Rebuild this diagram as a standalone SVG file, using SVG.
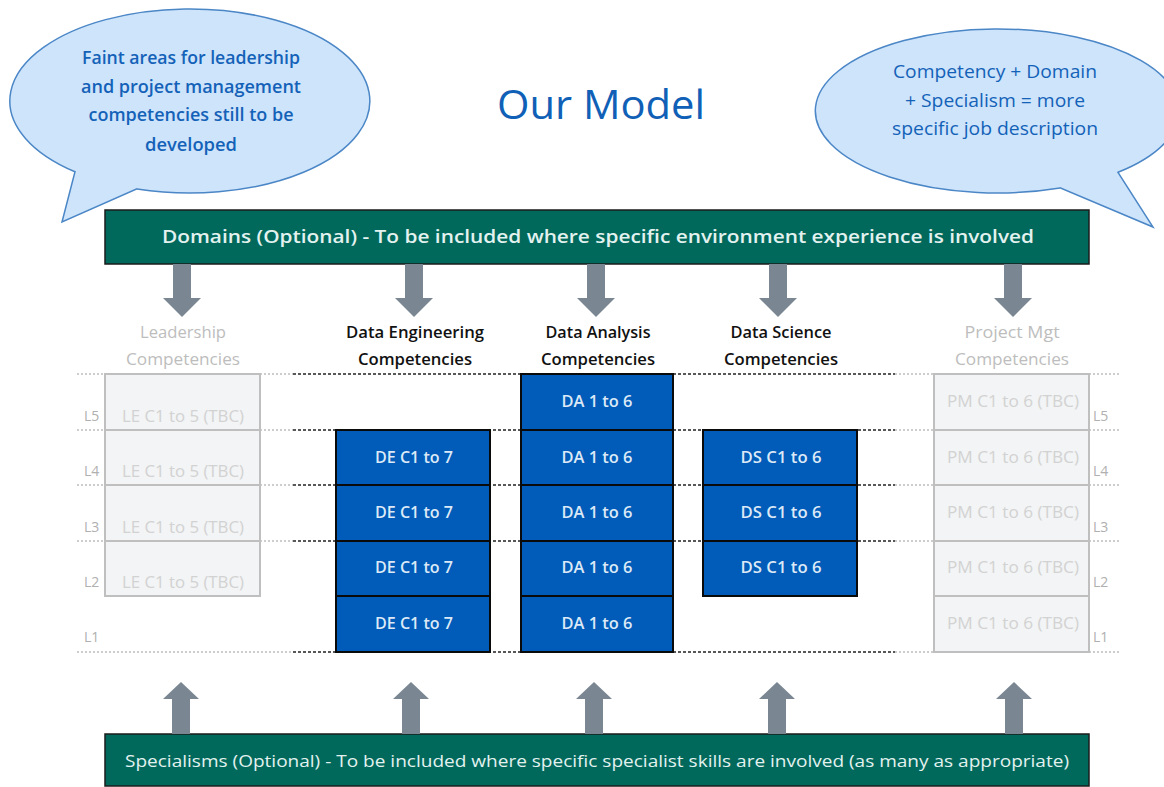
<svg xmlns="http://www.w3.org/2000/svg" width="1164" height="787" viewBox="0 0 1164 787">
<defs>
<style>
text{font-family:"Open Sans","Noto Sans","DejaVu Sans",sans-serif;}
.bub{fill:#cde4fb;stroke:#4b86c6;stroke-width:1.5;}
.bt{fill:#1462b8;font-size:18px;text-anchor:middle;}
.bar{fill:#00695c;stroke:#1b1b1b;stroke-width:1.5;}
.bart{fill:#e3f2ef;text-anchor:middle;}
.arr{fill:#7a8793;}
.hd{font-size:16px;text-anchor:middle;fill:#111;font-weight:600;}
.hdf{font-size:16px;text-anchor:middle;fill:#bdbdbd;}
.lv{font-size:14px;fill:#b0b0b0;}
.dg{stroke:#bdbdbd;stroke-width:1.3;stroke-dasharray:2 2;fill:none;}
.dk{stroke:#222;stroke-width:1.5;stroke-dasharray:3 2;fill:none;}
.fb{fill:#f2f4f5;stroke:#bfbfbf;stroke-width:2;}
.ft{font-size:16px;fill:#d2d2d2;text-anchor:middle;}
.blu{fill:#005cb8;stroke:#0a0a0a;stroke-width:2;}
.wt{font-size:16px;fill:#dce9f7;text-anchor:middle;font-weight:600;}
</style>
<symbol id="dn" overflow="visible"><path class="arr" d="M-9,0 H9 V34 H19 L0,53 L-19,34 H-9 Z"/></symbol>
<symbol id="up" overflow="visible"><path class="arr" d="M0,0 L18,17 H9 V52 H-9 V17 H-18 Z"/></symbol>
</defs>
<rect width="1164" height="787" fill="#ffffff"/>

<g id="bubble-left">
<path class="bub" d="M75,171.8 A180,92 0 1 1 137,188.9 L62,222 Z"/>
<text class="bt" font-weight="600" x="191" y="64" textLength="218" lengthAdjust="spacingAndGlyphs">Faint areas for leadership</text>
<text class="bt" font-weight="600" x="191" y="93" textLength="220" lengthAdjust="spacingAndGlyphs">and project management</text>
<text class="bt" font-weight="600" x="191" y="121" textLength="205" lengthAdjust="spacingAndGlyphs">competencies still to be</text>
<text class="bt" font-weight="600" x="191" y="151" textLength="92" lengthAdjust="spacingAndGlyphs">developed</text>
</g>

<g id="bubble-right">
<path class="bub" d="M1060,187.9 A182,82 0 1 1 1118,172.3 L1153,227 Z"/>
<text class="bt" x="995" y="78" textLength="204" lengthAdjust="spacingAndGlyphs">Competency + Domain</text>
<text class="bt" x="995" y="107" textLength="180" lengthAdjust="spacingAndGlyphs">+ Specialism = more</text>
<text class="bt" x="995" y="135" textLength="206" lengthAdjust="spacingAndGlyphs">specific job description</text>
</g>

<g id="title">
<text x="601" y="119" font-size="40" fill="#0f60b6" text-anchor="middle" textLength="208" lengthAdjust="spacingAndGlyphs">Our Model</text>
</g>

<g id="domains">
<rect class="bar" x="105" y="210" width="984" height="54"/>
<text class="bart" x="598" y="243" font-size="18" font-weight="600" textLength="872" lengthAdjust="spacingAndGlyphs">Domains (Optional) - To be included where specific environment experience is involved</text>
</g>

<g id="specialisms">
<rect class="bar" x="105" y="734" width="984" height="52"/>
<text class="bart" x="597" y="767" font-size="16" textLength="944" lengthAdjust="spacingAndGlyphs">Specialisms (Optional) - To be included where specific specialist skills are involved (as many as appropriate)</text>
</g>

<g id="connectors">
<use href="#dn" x="182" y="264"/>
<use href="#dn" x="414" y="264"/>
<use href="#dn" x="596" y="264"/>
<use href="#dn" x="778" y="264"/>
<use href="#dn" x="1013" y="264"/>
<use href="#up" x="181" y="682"/>
<use href="#up" x="411" y="682"/>
<use href="#up" x="594" y="682"/>
<use href="#up" x="777" y="682"/>
<use href="#up" x="1014" y="682"/>
</g>

<g id="gridlines">
<path class="dg" d="M77,374 H105 M260,374 H293 M895,374 H934 M1089,374 H1120"/>
<path class="dg" d="M77,430 H105 M260,430 H293 M895,430 H934 M1089,430 H1120"/>
<path class="dg" d="M77,485 H105 M260,485 H293 M895,485 H934 M1089,485 H1120"/>
<path class="dg" d="M77,541 H105 M260,541 H293 M895,541 H934 M1089,541 H1120"/>
<path class="dg" d="M77,652 H293 M895,652 H934 M1089,652 H1120"/>
<path class="dk" d="M293,374 H895 M293,430 H895 M293,485 H895 M293,541 H895 M293,652 H895"/>
</g>

<g id="levels-left">
<text class="lv" x="84" y="421">L5</text>
<text class="lv" x="84" y="476">L4</text>
<text class="lv" x="84" y="532">L3</text>
<text class="lv" x="84" y="587">L2</text>
<text class="lv" x="84" y="642">L1</text>
</g>
<g id="levels-right">
<text class="lv" x="1093" y="421">L5</text>
<text class="lv" x="1093" y="476">L4</text>
<text class="lv" x="1093" y="532">L3</text>
<text class="lv" x="1093" y="587">L2</text>
<text class="lv" x="1093" y="642">L1</text>
</g>

<g id="leadership">
<text class="hdf" x="183" y="338" textLength="86" lengthAdjust="spacingAndGlyphs">Leadership</text>
<text class="hdf" x="183" y="365" textLength="114" lengthAdjust="spacingAndGlyphs">Competencies</text>
<rect class="fb" x="105" y="374" width="155" height="56"/>
<rect class="fb" x="105" y="430" width="155" height="55"/>
<rect class="fb" x="105" y="485" width="155" height="56"/>
<rect class="fb" x="105" y="541" width="155" height="55"/>
<text class="ft" x="183" y="422" textLength="122" lengthAdjust="spacingAndGlyphs">LE C1 to 5 (TBC)</text>
<text class="ft" x="183" y="477" textLength="122" lengthAdjust="spacingAndGlyphs">LE C1 to 5 (TBC)</text>
<text class="ft" x="183" y="533" textLength="122" lengthAdjust="spacingAndGlyphs">LE C1 to 5 (TBC)</text>
<text class="ft" x="183" y="588" textLength="122" lengthAdjust="spacingAndGlyphs">LE C1 to 5 (TBC)</text>
</g>

<g id="data-engineering">
<text class="hd" x="415" y="338" textLength="138" lengthAdjust="spacingAndGlyphs">Data Engineering</text>
<text class="hd" x="415" y="365" textLength="114" lengthAdjust="spacingAndGlyphs">Competencies</text>
<rect class="blu" x="336" y="430" width="154" height="55"/>
<rect class="blu" x="336" y="485" width="154" height="56"/>
<rect class="blu" x="336" y="541" width="154" height="55"/>
<rect class="blu" x="336" y="596" width="154" height="56"/>
<text class="wt" x="414" y="463" textLength="78" lengthAdjust="spacingAndGlyphs">DE C1 to 7</text>
<text class="wt" x="414" y="518" textLength="78" lengthAdjust="spacingAndGlyphs">DE C1 to 7</text>
<text class="wt" x="414" y="573" textLength="78" lengthAdjust="spacingAndGlyphs">DE C1 to 7</text>
<text class="wt" x="414" y="629" textLength="78" lengthAdjust="spacingAndGlyphs">DE C1 to 7</text>
</g>

<g id="data-analysis">
<text class="hd" x="598" y="338" textLength="105" lengthAdjust="spacingAndGlyphs">Data Analysis</text>
<text class="hd" x="598" y="365" textLength="114" lengthAdjust="spacingAndGlyphs">Competencies</text>
<rect class="blu" x="521" y="374" width="152" height="56"/>
<rect class="blu" x="521" y="430" width="152" height="55"/>
<rect class="blu" x="521" y="485" width="152" height="56"/>
<rect class="blu" x="521" y="541" width="152" height="55"/>
<rect class="blu" x="521" y="596" width="152" height="56"/>
<text class="wt" x="597" y="407" textLength="71" lengthAdjust="spacingAndGlyphs">DA 1 to 6</text>
<text class="wt" x="597" y="463" textLength="71" lengthAdjust="spacingAndGlyphs">DA 1 to 6</text>
<text class="wt" x="597" y="518" textLength="71" lengthAdjust="spacingAndGlyphs">DA 1 to 6</text>
<text class="wt" x="597" y="573" textLength="71" lengthAdjust="spacingAndGlyphs">DA 1 to 6</text>
<text class="wt" x="597" y="629" textLength="71" lengthAdjust="spacingAndGlyphs">DA 1 to 6</text>
</g>

<g id="data-science">
<text class="hd" x="781" y="338" textLength="101" lengthAdjust="spacingAndGlyphs">Data Science</text>
<text class="hd" x="781" y="365" textLength="114" lengthAdjust="spacingAndGlyphs">Competencies</text>
<rect class="blu" x="703" y="430" width="154" height="55"/>
<rect class="blu" x="703" y="485" width="154" height="56"/>
<rect class="blu" x="703" y="541" width="154" height="55"/>
<text class="wt" x="781" y="463" textLength="81" lengthAdjust="spacingAndGlyphs">DS C1 to 6</text>
<text class="wt" x="781" y="518" textLength="81" lengthAdjust="spacingAndGlyphs">DS C1 to 6</text>
<text class="wt" x="781" y="573" textLength="81" lengthAdjust="spacingAndGlyphs">DS C1 to 6</text>
</g>

<g id="project-mgt">
<text class="hdf" x="1012" y="338" textLength="95" lengthAdjust="spacingAndGlyphs">Project Mgt</text>
<text class="hdf" x="1012" y="365" textLength="114" lengthAdjust="spacingAndGlyphs">Competencies</text>
<rect class="fb" x="934" y="374" width="155" height="56"/>
<rect class="fb" x="934" y="430" width="155" height="55"/>
<rect class="fb" x="934" y="485" width="155" height="56"/>
<rect class="fb" x="934" y="541" width="155" height="55"/>
<rect class="fb" x="934" y="596" width="155" height="56"/>
<text class="ft" x="1013" y="407" textLength="132" lengthAdjust="spacingAndGlyphs">PM C1 to 6 (TBC)</text>
<text class="ft" x="1013" y="463" textLength="132" lengthAdjust="spacingAndGlyphs">PM C1 to 6 (TBC)</text>
<text class="ft" x="1013" y="518" textLength="132" lengthAdjust="spacingAndGlyphs">PM C1 to 6 (TBC)</text>
<text class="ft" x="1013" y="573" textLength="132" lengthAdjust="spacingAndGlyphs">PM C1 to 6 (TBC)</text>
<text class="ft" x="1013" y="629" textLength="132" lengthAdjust="spacingAndGlyphs">PM C1 to 6 (TBC)</text>
</g>
</svg>
